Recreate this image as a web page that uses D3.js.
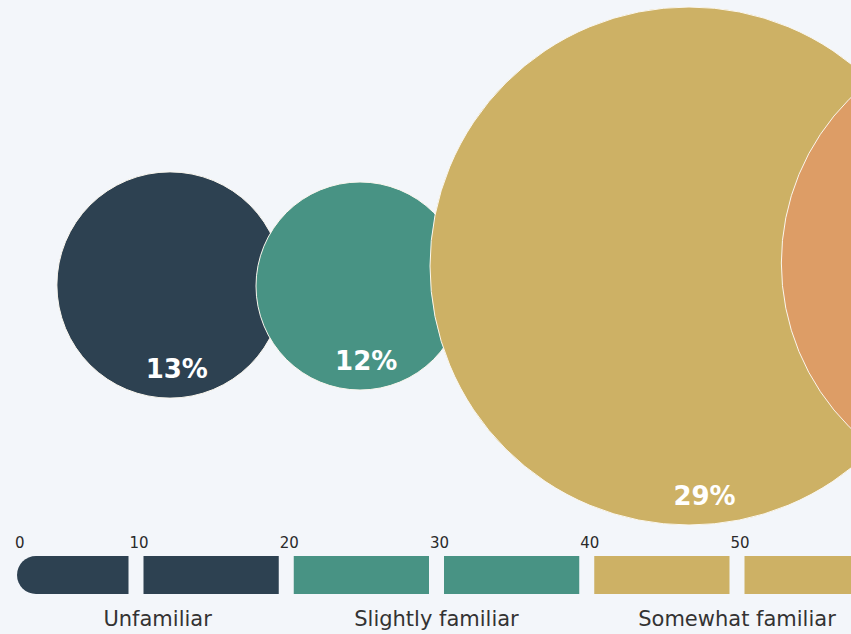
<!DOCTYPE html>
<html>
<head>
<meta charset="utf-8">
<script src="https://cdn.jsdelivr.net/npm/d3@7"></script>
<style>
  html, body { margin: 0; padding: 0; background: #f3f6fa; overflow: hidden; }
  svg { display: block; }
</style>
</head>
<body>
<div id="chart"></div>
<script>
// ---- data ----
const categories = ["Unfamiliar", "Slightly familiar", "Somewhat familiar", "Very familiar"];
const shares = [13, 12, 29, 26];               // percent
const colors = ["#2d4151", "#489384", "#cdb165", "#dd9d66"];
const scaleTicks = [0, 10, 20, 30, 40, 50, 60, 70, 80];
const segmentsPerCategory = 2;

// ---- layout ----
const W = 851, H = 634;
const svg = d3.select("#chart").append("svg").attr("width", W).attr("height", H);
svg.append("rect").attr("width", W).attr("height", H).attr("fill", "#f3f6fa");

const rScale = d3.scaleLinear().domain([12, 29]).range([104, 259]);
const slotX = d3.scaleOrdinal(categories, [170, 360, 689, 1013]);
const slotY = d3.scaleOrdinal(categories, [285, 286, 266, 263]);
const colorScale = d3.scaleOrdinal(categories, colors);

const bubbles = categories.map((c, i) => ({ cat: c, v: shares[i] }));

const gB = svg.append("g");
gB.selectAll("circle").data(bubbles).join("circle")
  .attr("cx", d => slotX(d.cat))
  .attr("cy", d => slotY(d.cat))
  .attr("r", d => rScale(d.v))
  .attr("fill", d => colorScale(d.cat))
  .attr("stroke", "#fbf7ee")
  .attr("stroke-width", 1);

gB.selectAll("text").data(bubbles.filter(d => slotX(d.cat) < W)).join("text")
  .attr("x", d => slotX(d.cat) + rScale(d.v) * 0.06)
  .attr("y", d => slotY(d.cat) + rScale(d.v) - 20)
  .attr("text-anchor", "middle")
  .attr("fill", "#ffffff")
  .attr("font-family", "DejaVu Sans, Verdana, sans-serif")
  .attr("font-weight", "bold")
  .attr("font-size", 26)
  .text(d => d.v + "%");

// ---- scale bar ----
const x = d3.scaleLinear().domain([10, 50]).range([136, 737]);
const barStart = 17, barTop = 556, barH = 38, gap = 15;
const capR = barH / 2;

const segs = [];
for (let k = 0; k < scaleTicks.length - 1; k++) {
  const lo = scaleTicks[k], hi = scaleTicks[k + 1];
  const cat = categories[Math.floor(k / segmentsPerCategory)];
  if (!cat) break;
  segs.push({ lo, hi, cat, first: k === 0 });
}

const gS = svg.append("g");
gS.selectAll("path").data(segs.filter(s => Math.max(x(s.lo) + gap / 2, barStart) < W)).join("path")
  .attr("fill", d => colorScale(d.cat))
  .attr("d", d => {
    const x0 = Math.max(x(d.lo) + gap / 2, barStart);
    const x1 = x(d.hi) - gap / 2;
    if (d.first) {
      return `M${x0 + capR},${barTop} H${x1} V${barTop + barH} H${x0 + capR} A${capR},${capR} 0 0 1 ${x0 + capR},${barTop} Z`;
    }
    return `M${x0},${barTop} H${x1} V${barTop + barH} H${x0} Z`;
  });

gS.selectAll("text.tick").data(scaleTicks.filter(t => x(t) < W - 10)).join("text")
  .attr("class", "tick")
  .attr("x", d => d === 0 ? barStart - 2 : x(d) + 3)
  .attr("y", 548)
  .attr("text-anchor", d => d === 0 ? "start" : "middle")
  .attr("fill", "#2a2a2a")
  .attr("font-family", "DejaVu Sans, Verdana, sans-serif")
  .attr("font-size", 15)
  .text(d => d);

const catLabels = categories.map((c, i) => {
  const lo = scaleTicks[i * segmentsPerCategory];
  const hi = scaleTicks[(i + 1) * segmentsPerCategory];
  return { cat: c, cx: (Math.max(x(lo), barStart) + x(hi)) / 2 + (i === 0 ? 6 : 0) };
}).filter(d => d.cx < W - 60);

gS.selectAll("text.cat").data(catLabels).join("text")
  .attr("class", "cat")
  .attr("x", d => d.cx)
  .attr("y", 626)
  .attr("text-anchor", "middle")
  .attr("fill", "#333333")
  .attr("font-family", "DejaVu Sans, Verdana, sans-serif")
  .attr("font-size", 21)
  .text(d => d.cat);
</script>
</body>
</html>
